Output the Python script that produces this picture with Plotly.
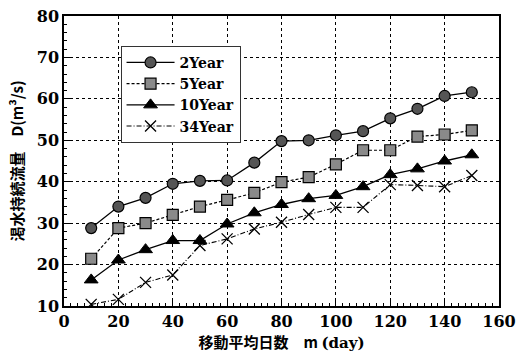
import plotly.graph_objects as go

days = [10, 20, 30, 40, 50, 60, 70, 80, 90, 100, 110, 120, 130, 140, 150]
y2 = [28.8, 34.0, 36.1, 39.5, 40.2, 40.3, 44.6, 49.8, 50.0, 51.2, 52.2, 55.3, 57.6, 60.7, 61.6]
y5 = [21.4, 28.8, 30.0, 32.0, 34.0, 35.6, 37.3, 39.9, 41.1, 44.2, 47.6, 47.6, 50.9, 51.4, 52.4]
y10 = [16.3, 21.1, 23.6, 25.8, 25.8, 29.8, 32.5, 34.5, 35.9, 36.7, 38.8, 41.7, 43.1, 45.0, 46.5]
y34 = [10.4, 11.6, 15.7, 17.5, 24.6, 26.2, 28.6, 30.2, 32.1, 33.8, 33.8, 39.3, 39.1, 38.8, 41.5]
names = ["2Year", "5Year", "10Year", "34Year"]

serif = "DejaVu Serif"
cjk = "Noto Sans CJK JP"

fig = go.Figure()
fig.add_trace(go.Scatter(x=days, y=y2, name=names[0], mode="lines+markers",
                         line=dict(color="black", width=1.3),
                         marker=dict(symbol="circle", size=11, color="#555555",
                                     line=dict(color="black", width=1.2))))
fig.add_trace(go.Scatter(x=days, y=y5, name=names[1], mode="lines+markers",
                         line=dict(color="black", width=1.2, dash="3px,2px"),
                         marker=dict(symbol="square", size=11, color="#8a8a8a",
                                     line=dict(color="black", width=1.2))))
fig.add_trace(go.Scatter(x=days, y=y10, name=names[2], mode="lines+markers",
                         line=dict(color="black", width=1.3),
                         marker=dict(symbol="triangle-up", size=12, color="black",
                                     line=dict(color="black", width=1))))
fig.add_trace(go.Scatter(x=days, y=y34, name=names[3], mode="lines+markers",
                         line=dict(color="black", width=1.1, dash="5px,2px,1px,2px"),
                         marker=dict(symbol="x-thin", size=11, color="black",
                                     line=dict(color="black", width=1.3))))

fig.update_layout(
    width=516, height=360,
    margin=dict(l=64, r=17, t=16, b=54, autoexpand=False),
    paper_bgcolor="white", plot_bgcolor="white",
    font=dict(family=serif, size=15, color="black"),
    showlegend=True,
    legend=dict(x=0.13, y=0.897, xanchor="left", yanchor="top",
                bgcolor="white", bordercolor="#333333", borderwidth=1,
                font=dict(family=serif, size=14, color="black", weight="bold"),
                tracegroupgap=0, itemwidth=48),
)
fig.update_xaxes(
    range=[0, 160], dtick=20, tick0=0, automargin=False,
    ticks="inside", ticklen=6, tickwidth=1, tickcolor="black",
    ticklabeloverflow="allow",
    minor=dict(dtick=2.5, ticks="inside", ticklen=3, tickcolor="black", showgrid=False),
    showgrid=True, gridcolor="black", griddash="dot", gridwidth=1,
    showline=True, linecolor="black", linewidth=1.5, mirror=True,
    zeroline=False,
    tickfont=dict(family=serif, size=16, color="black", weight="bold"),
    title=dict(text="移動平均日数　m <span style='font-family:DejaVu Serif'>(day)</span>", standoff=8,
               font=dict(family=cjk, size=15, color="black", weight="bold")),
)
fig.update_yaxes(
    range=[10, 80], dtick=10, tick0=0, automargin=False,
    ticks="inside", ticklen=6, tickwidth=1, tickcolor="black",
    minor=dict(dtick=2, ticks="inside", ticklen=3, tickcolor="black", showgrid=False),
    showgrid=True, gridcolor="black", griddash="dot", gridwidth=1,
    showline=True, linecolor="black", linewidth=1.5, mirror=True,
    zeroline=False,
    tickfont=dict(family=serif, size=16, color="black", weight="bold"),
    title=dict(text="渇水持続流量　D(m³/s)", standoff=10,
               font=dict(family=cjk, size=15, color="black", weight="bold")),
)

fig.write_html("out.html", config={"displayModeBar": False},
               post_script="document.body.style.margin='0';")
